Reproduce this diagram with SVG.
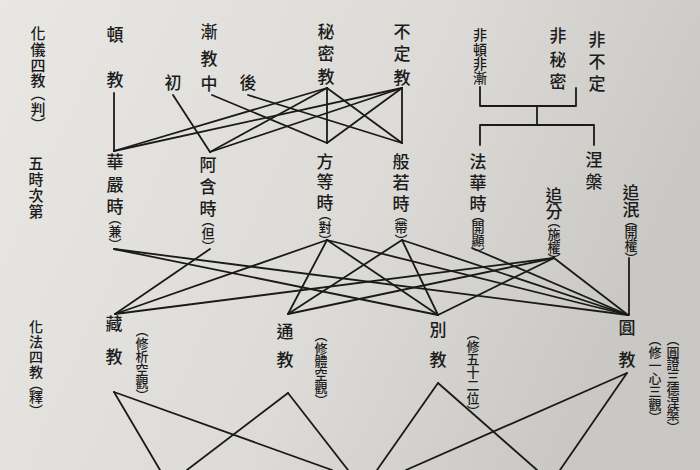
<svg xmlns="http://www.w3.org/2000/svg" width="700" height="470" viewBox="0 0 700 470">
<defs>
<linearGradient id="bg" x1="0" y1="0" x2="1" y2="0.3">
<stop offset="0" stop-color="#e8e7e3"/>
<stop offset="0.6" stop-color="#dcdbd7"/>
<stop offset="1" stop-color="#c9c8c4"/>
</linearGradient>
<style>
text{font-family:"Noto Sans CJK TC","Noto Sans CJK SC",sans-serif;fill:#1c1c1c;font-weight:500;writing-mode:vertical-rl;text-anchor:start}
.c{font-size:17px}
.h{font-size:15px}
.s{font-size:13px}
.t{font-size:14px}
#connectors line,#connectors path{stroke:#1a1a1a;stroke-width:1.8;fill:none;stroke-linecap:round;stroke-linejoin:round}
</style>
</defs>
<rect width="700" height="470" fill="url(#bg)"/>

<g id="connectors">
<path d="M480,87 V106 H576 V88"/>
<path d="M537,106 V125"/>
<path d="M480,145 V125 H594 V145"/>
<line x1="114" y1="93" x2="114" y2="151"/>
<line x1="114" y1="151" x2="327" y2="88"/>
<line x1="114" y1="151" x2="402" y2="88"/>
<line x1="173" y1="95" x2="210" y2="152"/>
<line x1="210" y1="152" x2="327" y2="88"/>
<line x1="210" y1="152" x2="402" y2="88"/>
<line x1="212" y1="95" x2="327" y2="143"/>
<line x1="248" y1="95" x2="402" y2="143"/>
<line x1="327" y1="88" x2="327" y2="143"/>
<line x1="327" y1="88" x2="402" y2="143"/>
<line x1="402" y1="88" x2="402" y2="143"/>
<line x1="402" y1="88" x2="327" y2="143"/>
<line x1="114" y1="249" x2="438" y2="315"/>
<line x1="114" y1="249" x2="628" y2="315"/>
<line x1="210" y1="249" x2="115" y2="314"/>
<line x1="327" y1="240" x2="115" y2="314"/>
<line x1="327" y1="240" x2="288" y2="314"/>
<line x1="327" y1="240" x2="438" y2="315"/>
<line x1="327" y1="240" x2="628" y2="315"/>
<line x1="402" y1="240" x2="288" y2="314"/>
<line x1="402" y1="240" x2="438" y2="315"/>
<line x1="402" y1="240" x2="628" y2="315"/>
<line x1="472" y1="248" x2="628" y2="315"/>
<line x1="554" y1="258" x2="115" y2="314"/>
<line x1="554" y1="258" x2="288" y2="314"/>
<line x1="554" y1="258" x2="438" y2="315"/>
<line x1="554" y1="258" x2="628" y2="315"/>
<line x1="629" y1="258" x2="629" y2="315"/>
<line x1="114" y1="392" x2="160" y2="470"/>
<line x1="114" y1="392" x2="332" y2="470"/>
<line x1="288" y1="393" x2="187" y2="470"/>
<line x1="288" y1="393" x2="348" y2="470"/>
<line x1="438" y1="383" x2="377" y2="470"/>
<line x1="438" y1="383" x2="537" y2="470"/>
<line x1="627" y1="373" x2="406" y2="470"/>
<line x1="627" y1="373" x2="560" y2="470"/>
</g>

<g id="huayi-sijiao">
<text class="h" x="38" y="25.5">化</text><text class="h" x="38" y="41.5">儀</text><text class="h" x="38" y="57.5">四</text><text class="h" x="38" y="72.5">教</text><text class="h" x="38" y="86">（</text><text class="h" x="38" y="101.5">判</text><text class="h" x="38" y="117">）</text>
</g>
<g id="dunjiao"><text class="c" x="115" y="26.5">頓</text><text class="c" x="115" y="71.5">教</text></g>
<g id="jianjiao"><text class="c" x="209" y="23.5">漸</text><text class="c" x="209" y="50.5">教</text><text class="c" x="209" y="75.5">中</text></g>
<g id="chu"><text class="c" x="173" y="74.5">初</text></g>
<g id="hou"><text class="c" x="248" y="74.5">後</text></g>
<g id="mimijiao"><text class="c" x="326" y="23.5">秘</text><text class="c" x="326" y="45.5">密</text><text class="c" x="326" y="68.5">教</text></g>
<g id="budingjiao"><text class="c" x="402" y="23.5">不</text><text class="c" x="402" y="45.5">定</text><text class="c" x="402" y="69.5">教</text></g>
<g id="feidun-feijian"><text class="t" x="480" y="28">非</text><text class="t" x="480" y="43">頓</text><text class="t" x="480" y="57">非</text><text class="t" x="480" y="71">漸</text></g>
<g id="feimimi"><text class="c" x="558" y="27.5">非</text><text class="c" x="558" y="51.5">秘</text><text class="c" x="558" y="73.5">密</text></g>
<g id="feibuding"><text class="c" x="597" y="31.5">非</text><text class="c" x="597" y="53.5">不</text><text class="c" x="597" y="75.5">定</text></g>

<g id="wushi-cidi"><text class="h" x="36" y="155.5">五</text><text class="h" x="36" y="172">時</text><text class="h" x="36" y="187.5">次</text><text class="h" x="36" y="203.5">第</text></g>
<g id="huayan"><text class="c" x="115" y="153.5">華</text><text class="c" x="115" y="176.5">嚴</text><text class="c" x="115" y="198.5">時</text><text class="s" x="115" y="212">（</text><text class="s" x="115" y="224.5">兼</text><text class="s" x="115" y="237.5">）</text></g>
<g id="ahan"><text class="c" x="208" y="156.5">阿</text><text class="c" x="208" y="178.5">含</text><text class="c" x="208" y="200.5">時</text><text class="s" x="208" y="214">（</text><text class="s" x="208" y="227">但</text><text class="s" x="208" y="240">）</text></g>
<g id="fangdeng"><text class="c" x="325" y="153.5">方</text><text class="c" x="325" y="173.5">等</text><text class="c" x="325" y="194.5">時</text><text class="s" x="325" y="208">（</text><text class="s" x="325" y="220.5">對</text><text class="s" x="325" y="233.5">）</text></g>
<g id="bore"><text class="c" x="401" y="153.5">般</text><text class="c" x="401" y="174.5">若</text><text class="c" x="401" y="195.5">時</text><text class="s" x="401" y="208.5">（</text><text class="s" x="401" y="221">帶</text><text class="s" x="401" y="234">）</text></g>
<g id="fahua"><text class="c" x="478" y="153.5">法</text><text class="c" x="478" y="174.5">華</text><text class="c" x="478" y="195.5">時</text><text class="s" x="478" y="208.5">（</text><text class="s" x="478" y="221">開</text><text class="s" x="478" y="234">顯</text><text class="s" x="478" y="247">）</text></g>
<g id="niepan"><text class="c" x="594" y="151.5">涅</text><text class="c" x="594" y="173.5">槃</text></g>
<g id="zhuifen"><text class="c" x="554" y="187">追</text><text class="c" x="554" y="203.5">分</text><text class="s" x="554" y="215">（</text><text class="s" x="554" y="227.5">施</text><text class="s" x="554" y="240.5">權</text><text class="s" x="554" y="253">）</text></g>
<g id="zhuimin"><text class="c" x="631" y="184">追</text><text class="c" x="631" y="201">泯</text><text class="s" x="631" y="213.5">（</text><text class="s" x="631" y="226">開</text><text class="s" x="631" y="239">權</text><text class="s" x="631" y="252">）</text></g>

<g id="huafa-sijiao"><text class="t" x="36" y="320">化</text><text class="t" x="36" y="335">法</text><text class="t" x="36" y="350">四</text><text class="t" x="36" y="365">教</text><text class="t" x="36" y="377">（</text><text class="t" x="36" y="390">釋</text><text class="t" x="36" y="404">）</text></g>
<g id="zangjiao"><text class="c" x="114" y="315.5">藏</text><text class="c" x="114" y="348.5">教</text>
<text class="s" x="142" y="323.5">（</text><text class="s" x="142" y="336.5">修</text><text class="s" x="142" y="349.5">析</text><text class="s" x="142" y="362.5">空</text><text class="s" x="142" y="375.5">觀</text><text class="s" x="142" y="388.5">）</text></g>
<g id="tongjiao"><text class="c" x="285" y="323.5">通</text><text class="c" x="285" y="351.5">教</text>
<text class="s" x="321" y="328.5">（</text><text class="s" x="321" y="341.5">修</text><text class="s" x="321" y="354.5">體</text><text class="s" x="321" y="367.5">空</text><text class="s" x="321" y="380.5">觀</text><text class="s" x="321" y="393.5">）</text></g>
<g id="biejiao"><text class="c" x="438" y="321.5">別</text><text class="c" x="438" y="351.5">教</text>
<text class="s" x="473" y="327">（</text><text class="s" x="473" y="340">修</text><text class="s" x="473" y="353">五</text><text class="s" x="473" y="366">十</text><text class="s" x="473" y="379">二</text><text class="s" x="473" y="392">位</text><text class="s" x="473" y="405">）</text></g>
<g id="yuanjiao"><text class="c" x="627" y="319.5">圓</text><text class="c" x="627" y="351.5">教</text>
<text class="s" x="655" y="333">（</text><text class="s" x="655" y="346">修</text><text class="s" x="655" y="359">一</text><text class="s" x="655" y="372">心</text><text class="s" x="655" y="385">三</text><text class="s" x="655" y="398">觀</text><text class="s" x="655" y="411">）</text>
<text class="s" x="673" y="333">（</text><text class="s" x="673" y="345.5">圓</text><text class="s" x="673" y="358">證</text><text class="s" x="673" y="370.5">三</text><text class="s" x="673" y="383">德</text><text class="s" x="673" y="395.5">涅</text><text class="s" x="673" y="408">槃</text><text class="s" x="673" y="420.5">）</text></g>
</svg>
